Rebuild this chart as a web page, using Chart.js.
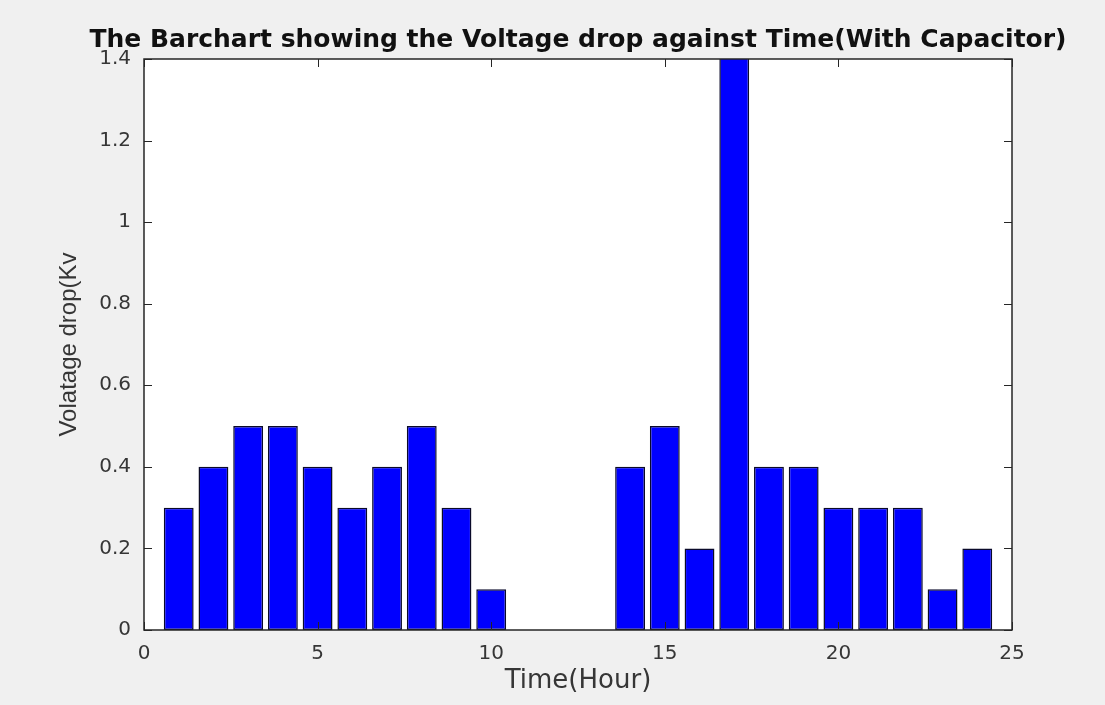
<!DOCTYPE html>
<html>
<head>
<meta charset="utf-8">
<title>Voltage drop against Time</title>
<script src="https://cdn.jsdelivr.net/npm/chart.js@4.4.1/dist/chart.umd.min.js"></script>
<style>
  body { margin: 0; background: #f0f0f0; }
  #wrap { width: 1105px; height: 705px; }
  #barChart { background: #f0f0f0; }
</style>
</head>
<body>
<div id="wrap"><canvas id="barChart"></canvas></div>
<script>
// data (hour 17 runs off the top of the axes)
const hours = [1, 2, 3, 4, 5, 6, 7, 8, 9, 10, 11, 12, 13, 14, 15, 16, 17, 18, 19, 20, 21, 22, 23, 24];
const voltageDrop = [0.3, 0.4, 0.5, 0.5, 0.4, 0.3, 0.4, 0.5, 0.3, 0.1, 0, 0, 0, 0.4, 0.5, 0.2, 1.5, 0.4, 0.4, 0.3, 0.3, 0.3, 0.1, 0.2];
const xTickValues = [0, 5, 10, 15, 20, 25];
const yTickValues = [0, 0.2, 0.4, 0.6, 0.8, 1, 1.2, 1.4];

const axisColor = '#262626';
const textColor = '#363636';

// white plot area + matlab style box with inward ticks
const axesBox = {
  id: 'axesBox',
  beforeDraw(chart) {
    const { ctx, chartArea: a } = chart;
    ctx.save();
    ctx.fillStyle = '#ffffff';
    ctx.fillRect(a.left, a.top, a.right - a.left, a.bottom - a.top);
    ctx.restore();
  },
  afterDatasetsDraw(chart) {
    const { ctx, chartArea: a, scales } = chart;
    const len = 8;
    ctx.save();
    ctx.strokeStyle = axisColor;
    ctx.lineWidth = 1.5;
    ctx.strokeRect(a.left, a.top, a.right - a.left, a.bottom - a.top);
    ctx.lineWidth = 1;
    ctx.beginPath();
    xTickValues.forEach(v => {
      const px = Math.round(scales.x.getPixelForValue(v)) + 0.5;
      ctx.moveTo(px, a.bottom); ctx.lineTo(px, a.bottom - len);
      ctx.moveTo(px, a.top); ctx.lineTo(px, a.top + len);
    });
    yTickValues.forEach(v => {
      const py = Math.round(scales.y.getPixelForValue(v)) + 0.5;
      ctx.moveTo(a.left, py); ctx.lineTo(a.left + len, py);
      ctx.moveTo(a.right, py); ctx.lineTo(a.right - len, py);
    });
    ctx.stroke();
    ctx.restore();
  }
};

const ctxBar = document.getElementById('barChart');

new Chart(ctxBar, {
  type: 'bar',
  data: {
    datasets: [{
      label: 'Voltage drop',
      data: hours.map((h, i) => ({ x: h, y: voltageDrop[i] })),
      backgroundColor: '#0000ff',
      borderColor: '#0a0a2a',
      borderWidth: 1.5,
      borderSkipped: false,
      barPercentage: 0.86,
      categoryPercentage: 1,
      clip: 0
    }]
  },
  options: {
    responsive: true,
    maintainAspectRatio: false,
    animation: false,
    devicePixelRatio: 1,
    // left pad shifts the title centre over the plot
    layout: { padding: { left: 51, right: 0, top: 0, bottom: 0 } },
    plugins: {
      legend: { display: false },
      tooltip: { enabled: false },
      title: {
        display: true,
        text: 'The Barchart showing the Voltage drop against Time(With Capacitor)',
        color: '#111111',
        font: { family: 'DejaVu Sans', size: 25, weight: 'bold' },
        padding: { top: 25, bottom: 4 }
      }
    },
    scales: {
      x: {
        type: 'linear',
        min: 0,
        max: 25,
        offset: false,
        afterBuildTicks: s => { s.ticks = xTickValues.map(v => ({ value: v })); },
        afterFit: s => { s.height = 75; },
        grid: { display: false, drawTicks: false },
        border: { display: false },
        ticks: {
          color: textColor,
          padding: 12,
          maxRotation: 0,
          font: { family: 'DejaVu Sans', size: 20 },
          callback: v => String(v)
        },
        title: {
          display: true,
          text: 'Time(Hour)',
          color: textColor,
          font: { family: 'DejaVu Sans', size: 26 },
          padding: { top: 0, bottom: 8 }
        }
      },
      y: {
        min: 0,
        max: 1.4,
        afterBuildTicks: s => { s.ticks = yTickValues.map(v => ({ value: v })); },
        afterFit: s => { s.width = 93; },
        grid: { display: false, drawTicks: false },
        border: { display: false },
        ticks: {
          color: textColor,
          padding: 13,
          font: { family: 'DejaVu Sans', size: 20 },
          callback: v => String(Math.round(v * 10) / 10)
        },
        title: {
          display: true,
          text: 'Volatage drop(Kv',
          color: textColor,
          font: { family: 'Liberation Sans', size: 24 },
          padding: { top: 4, bottom: 0 }
        }
      },
      // empty right-hand strip so the plot ends where the reference does
      yRight: {
        position: 'right',
        min: 0,
        max: 1.4,
        afterFit: s => { s.width = 93; },
        grid: { display: false, drawTicks: false },
        border: { display: false },
        ticks: { display: false }
      }
    }
  },
  plugins: [axesBox]
});
</script>
</body>
</html>
